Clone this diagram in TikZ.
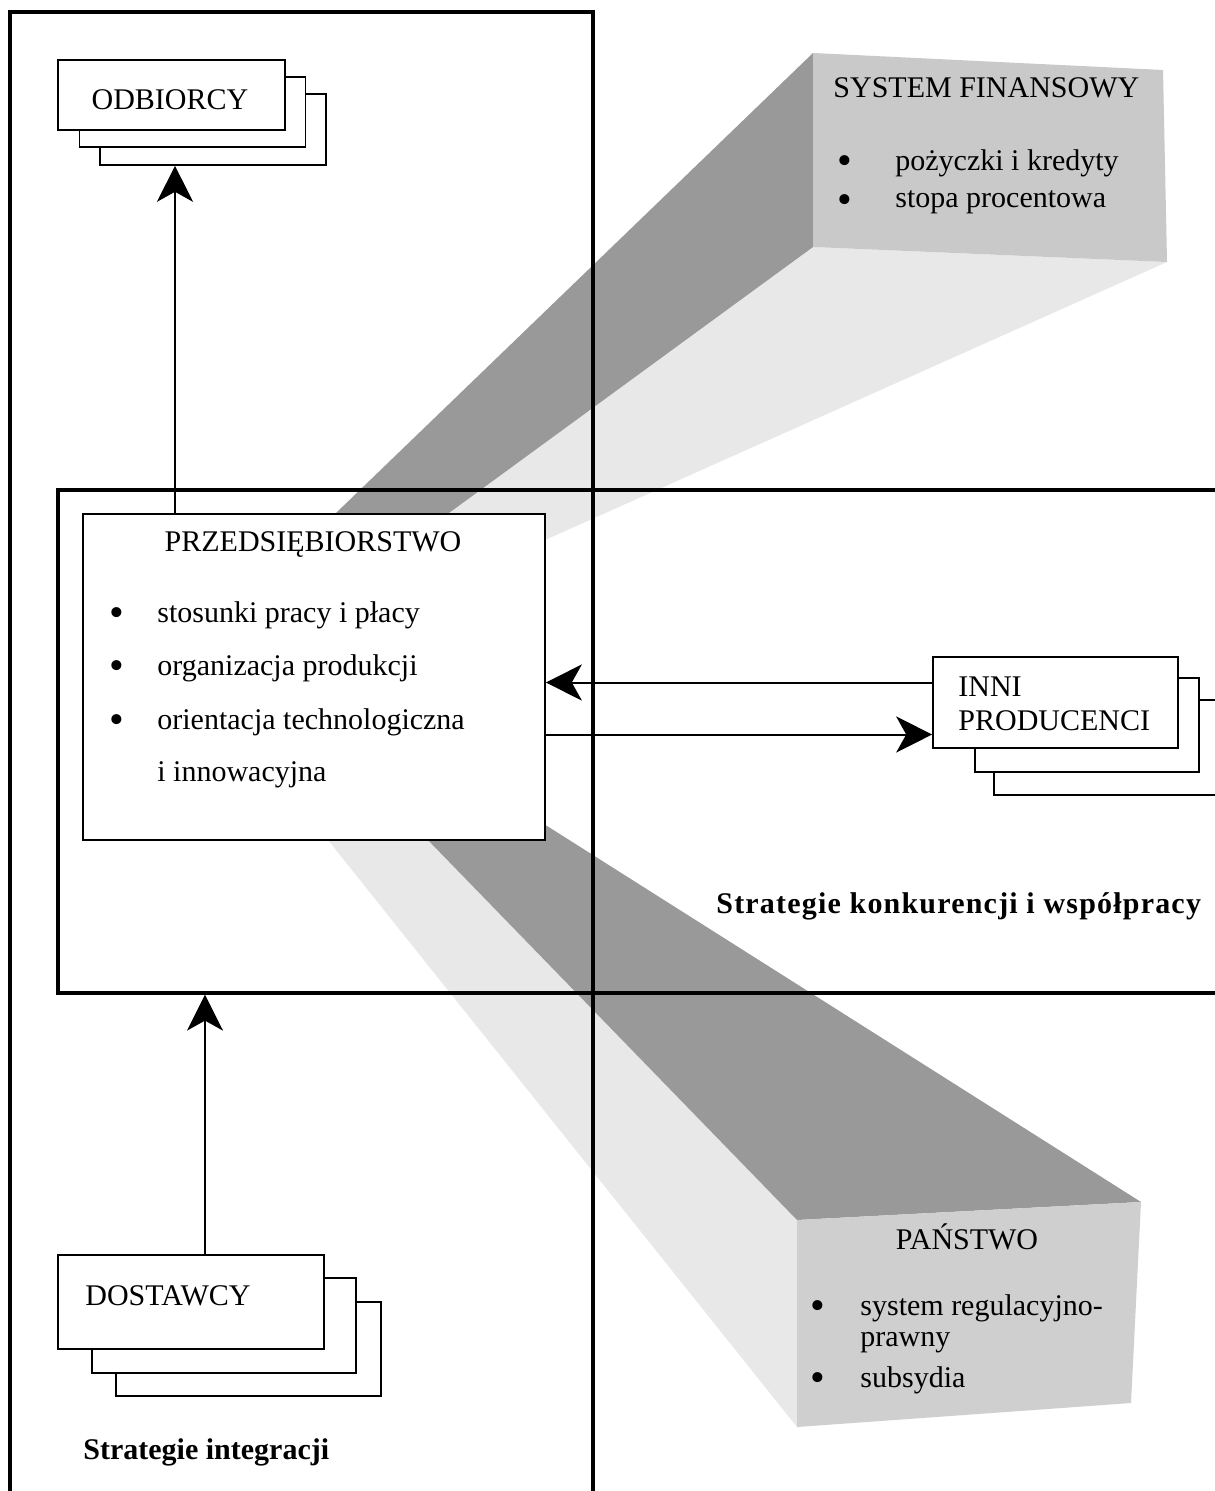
\documentclass[tikz,border=0pt]{standalone}
\usepackage{fontspec}
\setmainfont{Liberation Serif}
\usetikzlibrary{arrows.meta}
\definecolor{faceS}{gray}{0.79}
\definecolor{faceP}{gray}{0.81}
\definecolor{darkband}{gray}{0.60}
\definecolor{lightband}{gray}{0.91}
\begin{document}
\begin{tikzpicture}[x=0.5pt,y=-0.5pt,
  sheet/.style={draw=black,line width=0.8pt,fill=white,inner sep=0pt},
  frame/.style={draw=black,line width=1.6pt,inner sep=0pt},
  arr/.style={line width=1pt,-{Stealth[length=18pt,width=18pt,inset=5pt]}},
  txt/.style={anchor=west,inner sep=0pt,font=\fontsize{15}{17}\selectfont},
  ctxt/.style={txt,anchor=center},
  bul/.style={anchor=center,inner sep=0pt,font=\fontsize{21}{21}\selectfont},
  btxt/.style={txt,font=\fontsize{15}{17}\selectfont\bfseries}
]
\useasboundingbox (0,0) rectangle (1214,1491);
\fill[white] (0,0) rectangle (1214,1491);

% --- SYSTEM FINANSOWY beam ---
\fill[lightband] (813,247) -- (1167,262) -- (545,540) -- (412,540) -- cycle;
\fill[darkband] (813,53) -- (813,247) -- (412,540) -- (308,540) -- cycle;
\fill[faceS] (813,53) -- (1163,70) -- (1167,262) -- (813,247) -- cycle;

% --- PANSTWO beam ---
\fill[lightband] (797,1220) -- (797,1427) -- (296,800) -- (389,800) -- cycle;
\fill[darkband] (797,1220) -- (1141,1202) -- (506,800) -- (389,800) -- cycle;
\fill[faceP] (797,1220) -- (1141,1202) -- (1131,1403) -- (797,1427) -- cycle;

% face texts
\node[txt] (sft) at (833,88) {SYSTEM FINANSOWY};
\node[bul] (sfb1) at (845,165) {•};
\node[txt] (sf1) at (895,163) {pożyczki i kredyty};
\node[bul] (sfb2) at (845,204) {•};
\node[txt] (sf2) at (895,202) {stopa procentowa};

\node[ctxt] (pt) at (967,1237) {PAŃSTWO};
\node[bul] (pb1) at (818,1310) {•};
\node[txt] (p1) at (860,1308) {system regulacyjno-};
\node[txt] (p1b) at (860,1343) {prawny};
\node[bul] (pb2) at (818,1382) {•};
\node[txt] (p2) at (860,1380) {subsydia};

% --- frames ---
\node[frame,minimum width=291.5pt,minimum height=754pt] (integ) at (301.5,766) {};
\node[frame,minimum width=591pt,minimum height=251.5pt] (konk) at (649,741.5) {};

% --- ODBIORCY stack ---
\node[sheet,minimum width=113pt,minimum height=35.5pt] (odb3) at (213,129.5) {};
\node[sheet,minimum width=113pt,minimum height=35pt] (odb2) at (192.5,112) {};
\node[sheet,minimum width=113.5pt,minimum height=35pt] (odb) at (171.5,95) {};
\node[ctxt] (odbt) at (170,100) {ODBIORCY};

% --- DOSTAWCY stack ---
\node[sheet,minimum width=132.5pt,minimum height=47pt] (dost3) at (248.5,1349) {};
\node[sheet,minimum width=132pt,minimum height=47.5pt] (dost2) at (224,1325.5) {};
\node[sheet,minimum width=133pt,minimum height=47pt] (dost) at (191,1302) {};
\node[txt] (dostt) at (85,1296) {DOSTAWCY};

% --- INNI PRODUCENCI stack ---
\node[sheet,minimum width=123pt,minimum height=47.5pt] (inni3) at (1117,747.5) {};
\node[sheet,minimum width=112pt,minimum height=47pt] (inni2) at (1087,725) {};
\node[sheet,minimum width=122.5pt,minimum height=45.5pt] (inni) at (1055.5,702.5) {};
\node[txt,align=left] (innit) at (958,704) {INNI\\PRODUCENCI};

% --- PRZEDSIEBIORSTWO ---
\node[sheet,minimum width=231pt,minimum height=163pt] (prz) at (314,677) {};
\node[ctxt] (przt) at (313,545) {PRZEDSIĘBIORSTWO};
\node[bul] (zb1) at (117,617) {•};
\node[txt] (z1) at (157,615) {stosunki pracy i płacy};
\node[bul] (zb2) at (117,670) {•};
\node[txt] (z2) at (157,668) {organizacja produkcji};
\node[bul] (zb3) at (117,724) {•};
\node[txt] (z3) at (157,722) {orientacja technologiczna};
\node[txt] (z3b) at (157,775) {i innowacyjna};

% --- arrows ---
\draw[arr] ([xshift=1.75pt]odb.south |- prz.north) -- ([xshift=1.75pt]odb.south |- odb3.south);
\draw[arr] ([xshift=7pt]dost.north) -- ([xshift=7pt]dost.north |- konk.south);
\draw[arr] ([yshift=10pt]inni.west) -- ([yshift=10pt]inni.west -| prz.east);
\draw[arr] ([yshift=-16pt]inni.west -| prz.east) -- ([yshift=-16pt]inni.west);

% --- strategy labels ---
\node[btxt] (sk) at (716,906) {\addfontfeature{LetterSpace=4}Strategie konkurencji i współpracy};
\node[btxt] (si) at (83,1452) {Strategie integracji};
\end{tikzpicture}
\end{document}
